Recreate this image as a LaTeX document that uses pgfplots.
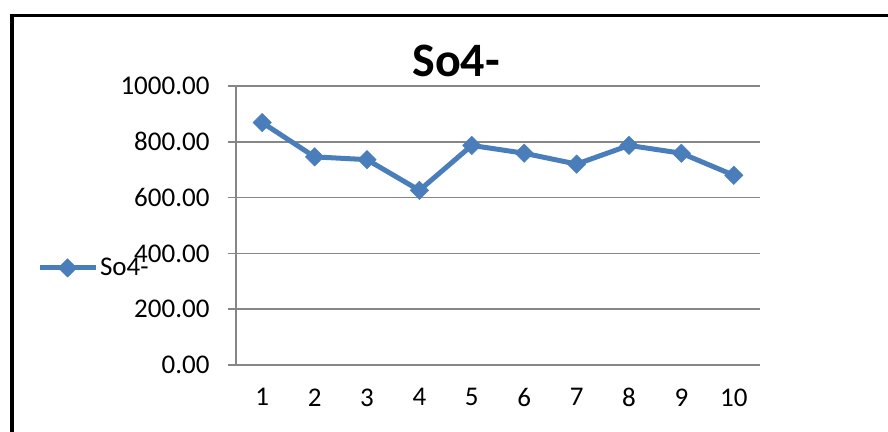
\documentclass[border=0pt]{standalone}
\usepackage{fontspec}
\setmainfont{Carlito}
\usepackage{pgfplots}
\pgfplotsset{compat=1.18}

\definecolor{serblue}{RGB}{74,126,187}
\definecolor{gridgray}{RGB}{134,134,134}

\begin{document}
\begin{tikzpicture}
\path[use as bounding box] (0,0) rectangle (888bp,432bp);
\begin{axis}[
    at={(236bp,67bp)}, anchor=south west,
    scale only axis,
    width=524bp, height=279bp,
    xmin=0.5, xmax=10.5,
    ymin=0, ymax=1000,
    xtick={1,...,10},
    minor xtick={0.5,1.5,...,10.5},
    ytick={0,200,...,1000},
    axis x line*=bottom, axis y line*=left,
    axis line style={draw=gridgray, line width=1.5bp, -},
    tick style={draw=gridgray, line width=1.5bp},
    xtick style={draw=none},
    minor tick style={draw=gridgray, line width=1.5bp},
    tick align=outside,
    major tick length=8bp, minor tick length=7bp,
    ymajorgrids,
    grid style={draw=gridgray, line width=1.5bp},
    ticklabel style={font=\fontsize{27bp}{31bp}\selectfont},
    /pgf/number format/assume math mode=true,
    yticklabel style={xshift=-15bp, /pgf/number format/.cd, fixed, fixed zerofill, precision=2, 1000 sep={}},
    xticklabel style={yshift=-12bp},
    title={So4-},
    title style={font=\fontsize{48bp}{52bp}\selectfont\bfseries,
        at={(axis description cs:0.42,1.014)}, anchor=base},
    legend style={at={(axis description cs:-0.380,0.348)}, anchor=west,
        draw=none, fill=none, inner sep=0pt,
        nodes={inner sep=2bp, font=\fontsize{27bp}{31bp}\selectfont}},
    legend image code/.code={\draw[mark repeat=2,mark phase=2] plot coordinates {(0bp,0bp)(28bp,0bp)(56bp,0bp)};},
]
\addplot[color=serblue, line width=5bp, mark=square*,
    mark options={rotate=45, solid, line width=0.5bp}, mark size=6.5bp]
    coordinates {
    (1,869) (2,746) (3,736) (4,626) (5,787)
    (6,759) (7,720) (8,787) (9,759) (10,680)
};
\addlegendentry{So4-}
\end{axis}
\draw[line width=3.8bp, line join=miter] (12.3bp,0bp) -- (12.3bp,416.5bp) -- (888bp,416.5bp);
\end{tikzpicture}
\end{document}
